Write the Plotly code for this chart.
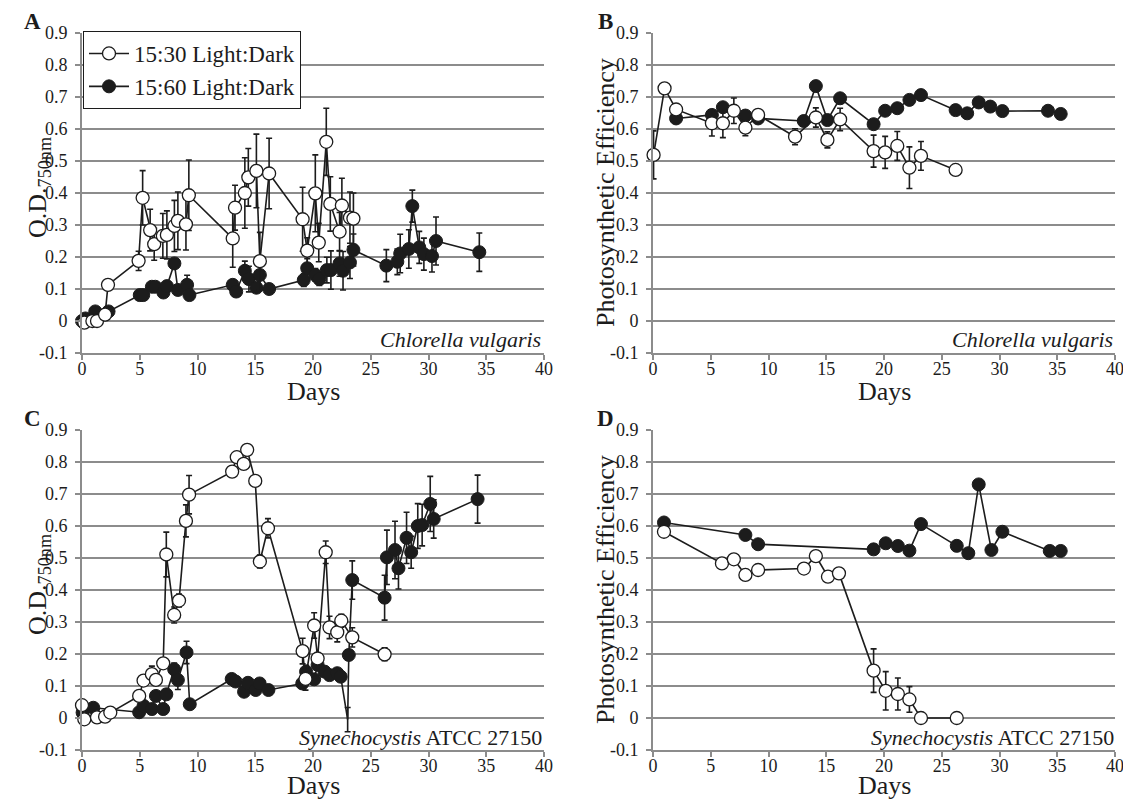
import plotly.graph_objects as go
from plotly.subplots import make_subplots

# Panel A: Chlorella vulgaris, O.D.750nm
a_open_day = [0.2, 0.9, 1.3, 2.0, 2.25, 4.9, 5.25, 5.9, 6.25, 7.0, 7.35, 8.0, 8.3, 9.0, 9.25,
              13.05, 13.25, 14.1, 14.4, 15.1, 15.4, 16.2, 19.1, 19.5, 20.2, 20.5, 21.15, 21.5,
              22.3, 22.5, 23.2, 23.5]
a_open_val = [-0.005, 0.0, 0.0, 0.02, 0.113, 0.188, 0.385, 0.284, 0.24, 0.266, 0.269, 0.297,
              0.313, 0.302, 0.393, 0.258, 0.354, 0.40, 0.449, 0.469, 0.187, 0.461, 0.318, 0.22,
              0.399, 0.245, 0.56, 0.366, 0.279, 0.361, 0.323, 0.32]
a_open_err = [0, 0, 0, 0.005, 0.01, 0.03, 0.085, 0.065, 0.05, 0.07, 0.075, 0.08, 0.09, 0.08,
              0.11, 0.09, 0.07, 0.11, 0.09, 0.115, 0.09, 0.11, 0.1, 0.04, 0.12, 0.06, 0.105,
              0.085, 0.06, 0.085, 0.08, 0.08]
a_fill_day = [0, 0.3, 1.15, 2.3, 5.0, 5.3, 6.05, 6.35, 7.05, 7.35, 8.0, 8.3, 9.1, 9.3, 13.05,
              13.35, 14.1, 14.45, 15.1, 15.4, 16.2, 19.2, 19.5, 20.2, 20.55, 21.2, 21.55, 22.3,
              22.6, 23.2, 23.5, 26.35, 27.3, 27.55, 28.3, 28.6, 29.2, 29.6, 30.3, 30.65, 34.4]
a_fill_val = [0, 0.008, 0.03, 0.03, 0.081, 0.081, 0.107, 0.107, 0.089, 0.109, 0.18, 0.097,
              0.113, 0.081, 0.113, 0.092, 0.157, 0.131, 0.104, 0.144, 0.10, 0.128, 0.165, 0.144,
              0.131, 0.159, 0.159, 0.18, 0.157, 0.183, 0.222, 0.173, 0.185, 0.211, 0.225, 0.359,
              0.23, 0.209, 0.203, 0.25, 0.215]
a_fill_err = [0, 0, 0.005, 0.005, 0.005, 0.005, 0.005, 0.005, 0.01, 0.01, 0.01, 0.01, 0.03,
              0.01, 0.01, 0.01, 0.03, 0.04, 0.01, 0.04, 0.01, 0.02, 0.03, 0.02, 0.02, 0.04,
              0.06, 0.04, 0.06, 0.05, 0.05, 0.05, 0.04, 0.06, 0.06, 0.05, 0.05, 0.05, 0.05,
              0.075, 0.06]

# Panel B: Chlorella vulgaris, photosynthetic efficiency
b_open_day = [0.05, 1.0, 2.0, 5.1, 6.05, 7.0, 8.0, 9.1, 12.3, 14.1, 15.1, 16.2, 19.1, 20.1,
              21.15, 22.2, 23.2, 26.2]
b_open_val = [0.519, 0.727, 0.661, 0.618, 0.618, 0.657, 0.604, 0.644, 0.576, 0.636, 0.566,
              0.63, 0.531, 0.527, 0.547, 0.479, 0.516, 0.472]
b_open_err = [0.075, 0.005, 0.005, 0.04, 0.045, 0.04, 0.025, 0.01, 0.025, 0.03, 0.025, 0.035,
              0.05, 0.05, 0.045, 0.065, 0.045, 0.0]
b_fill_day = [2.0, 5.1, 6.05, 8.0, 9.1, 13.05, 14.1, 15.1, 16.2, 19.1, 20.1, 21.15, 22.2,
              23.2, 26.2, 27.2, 28.2, 29.2, 30.25, 34.2, 35.3]
b_fill_val = [0.633, 0.644, 0.668, 0.642, 0.633, 0.625, 0.734, 0.628, 0.696, 0.615, 0.657,
              0.665, 0.691, 0.706, 0.659, 0.649, 0.683, 0.67, 0.656, 0.657, 0.647]
b_fill_err = [0.01, 0.01, 0.01, 0.01, 0.01, 0.01, 0.01, 0.01, 0.01, 0.01, 0.01, 0.01, 0.01,
              0.01, 0.01, 0.01, 0.01, 0.01, 0.01, 0.01, 0.01]

# Panel C: Synechocystis ATCC 27150, O.D.750nm
c_open_day = [0.0, 0.2, 1.3, 2.0, 2.45, 4.95, 5.33, 6.05, 6.4, 7.03, 7.3, 7.98, 8.4, 9.0,
              9.27, 13.0, 13.4, 14.0, 14.3, 15.0, 15.4, 16.1, 19.1, 19.35, 20.1, 20.4, 21.1,
              21.43, 22.1, 22.45, 23.4, 26.2]
c_open_val = [0.04, -0.004, 0.002, 0.004, 0.017, 0.069, 0.117, 0.137, 0.119, 0.171, 0.511,
              0.322, 0.367, 0.616, 0.698, 0.77, 0.815, 0.794, 0.838, 0.741, 0.489, 0.593,
              0.209, 0.122, 0.289, 0.186, 0.518, 0.283, 0.268, 0.304, 0.252, 0.199]
c_open_err = [0, 0, 0, 0, 0, 0.005, 0.01, 0.025, 0.01, 0.01, 0.07, 0.025, 0.02, 0.05, 0.06,
              0.015, 0.01, 0.015, 0.005, 0.015, 0.02, 0.03, 0.04, 0.035, 0.04, 0.01, 0.035,
              0.035, 0.03, 0.02, 0.03, 0.02]
c_fill_day = [0.05, 0.98, 4.95, 5.33, 6.05, 6.4, 7.03, 7.3, 7.98, 8.3, 9.05, 9.33, 12.96,
              13.3, 14.03, 14.37, 15.04, 15.38, 16.14, 19.07, 19.4, 20.1, 20.4, 21.0, 21.43,
              22.1, 22.4, 23.0, 23.1, 23.4, 26.2, 26.4, 27.1, 27.4, 28.1, 28.5, 29.07, 29.45,
              30.15, 30.45, 34.25]
c_fill_val = [0.017, 0.032, 0.018, 0.038, 0.028, 0.069, 0.028, 0.074, 0.152, 0.119, 0.205,
              0.043, 0.122, 0.114, 0.082, 0.11, 0.0875, 0.108, 0.0875, 0.108, 0.145, 0.121,
              0.166, 0.145, 0.134, 0.14, 0.129, -0.005, 0.197, 0.431, 0.376, 0.502, 0.525,
              0.468, 0.563, 0.518, 0.6, 0.603, 0.669, 0.622, 0.684]
c_fill_err = [0.005, 0.005, 0.005, 0.005, 0.005, 0.01, 0.005, 0.01, 0.02, 0.03, 0.035, 0.005,
              0.01, 0.01, 0.01, 0.01, 0.01, 0.01, 0.01, 0.015, 0.02, 0.01, 0.01, 0.01, 0.01,
              0.01, 0.01, 0.038, 0.015, 0.06, 0.07, 0.085, 0.09, 0.065, 0.08, 0.05, 0.07,
              0.065, 0.086, 0.06, 0.075]
c_fill_nomarker_day = 23.0  # this point is plotted without a circle

# Panel D: Synechocystis ATCC 27150, photosynthetic efficiency
d_open_day = [0.95, 5.97, 7.0, 8.0, 9.1, 13.07, 14.1, 15.15, 16.1, 19.1, 20.15, 21.2, 22.2,
              23.2, 26.3]
d_open_val = [0.582, 0.483, 0.496, 0.447, 0.4625, 0.467, 0.506, 0.4416, 0.452, 0.148, 0.085,
              0.075, 0.058, 0.0, 0.0]
d_open_err = [0.005, 0.005, 0.005, 0.005, 0.005, 0.005, 0.005, 0.005, 0.005, 0.068, 0.06,
              0.05, 0.04, 0, 0]
d_fill_day = [0.95, 8.0, 9.1, 19.1, 20.15, 21.2, 22.2, 23.2, 26.3, 27.3, 28.2, 29.3, 30.25,
              34.35, 35.3]
d_fill_val = [0.611, 0.572, 0.543, 0.527, 0.546, 0.5375, 0.523, 0.606, 0.538, 0.515, 0.73,
              0.525, 0.582, 0.522, 0.522]
d_fill_err = [0.005, 0.005, 0.005, 0.005, 0.005, 0.005, 0.005, 0.005, 0.005, 0.005, 0.005,
              0.005, 0.005, 0.005, 0.005]

series_names = ["15:30 Light:Dark", "15:60 Light:Dark"]
y_tickvals = [-0.1, 0, 0.1, 0.2, 0.3, 0.4, 0.5, 0.6, 0.7, 0.8, 0.9]
y_ticktext = ["-0.1", "0", "0.1", "0.2", "0.3", "0.4", "0.5", "0.6", "0.7", "0.8", "0.9"]
x_tickvals = [0, 5, 10, 15, 20, 25, 30, 35, 40]

# the page body adds an 8px margin, so the figure is drawn 8px smaller
# and every screen position is shifted by that amount
W, H, OFF = 1131, 801, 8
FW, FH = W - OFF, H - OFF
INK = "#1c1c1c"
GRID = "#8c8c8c"
FONT = "Liberation Serif"


def px(p):
    return (p - OFF) / FW


def py(p):
    return 1 - (p - OFF) / FH


fig = make_subplots(rows=2, cols=2)

panels = [
    (1, 1, (a_open_day, a_open_val, a_open_err), (a_fill_day, a_fill_val, a_fill_err)),
    (1, 2, (b_open_day, b_open_val, b_open_err), (b_fill_day, b_fill_val, b_fill_err)),
    (2, 1, (c_open_day, c_open_val, c_open_err), (c_fill_day, c_fill_val, c_fill_err)),
    (2, 2, (d_open_day, d_open_val, d_open_err), (d_fill_day, d_fill_val, d_fill_err)),
]

for row, col, op, fl in panels:
    first = row == 1 and col == 1
    fsizes = 13
    if row == 2 and col == 1:
        fsizes = [0 if d == c_fill_nomarker_day else 13 for d in fl[0]]
    # filled series first so the open circles sit on top
    fig.add_trace(go.Scatter(
        x=fl[0], y=fl[1], mode="lines+markers", name=series_names[1],
        legendrank=2, showlegend=first, cliponaxis=False,
        line=dict(color=INK, width=1.6),
        marker=dict(symbol="circle", size=fsizes, color=INK, opacity=1,
                    line=dict(color=INK, width=1)),
        error_y=dict(type="data", array=fl[2], visible=True, color=INK, thickness=1.6, width=3),
    ), row=row, col=col)
    fig.add_trace(go.Scatter(
        x=op[0], y=op[1], mode="lines+markers", name=series_names[0],
        legendrank=1, showlegend=first, cliponaxis=False,
        line=dict(color=INK, width=1.6),
        marker=dict(symbol="circle", size=13, color="white", opacity=1,
                    line=dict(color=INK, width=1.3)),
        error_y=dict(type="data", array=op[2], visible=True, color=INK, thickness=1.6, width=3),
    ), row=row, col=col)

# plot-area positions in screen pixels (left, right, top, bottom)
boxes = {
    (1, 1): (82, 544, 33, 353),
    (1, 2): (653, 1115, 33, 353),
    (2, 1): (82, 544, 430, 750),
    (2, 2): (653, 1115, 430, 750),
}
for (row, col), (l, r, t, b) in boxes.items():
    fig.update_xaxes(
        domain=[px(l), px(r)], range=[0, 40], tickvals=x_tickvals, automargin=False,
        showgrid=False, zeroline=False, showline=True, linecolor=GRID, linewidth=2,
        ticks="outside", ticklen=5, tickcolor=GRID, tickwidth=1.5,
        tickfont=dict(family=FONT, size=18, color=INK), ticklabelstandoff=-7,
        row=row, col=col)
    fig.update_yaxes(
        domain=[py(b), py(t)], range=[-0.1, 0.9], tickvals=y_tickvals,
        ticktext=y_ticktext, automargin=False,
        showgrid=True, gridcolor=GRID, gridwidth=1.8,
        zeroline=False, showline=True, linecolor=GRID, linewidth=2,
        ticks="outside", ticklen=5, tickcolor=GRID, tickwidth=1.5,
        tickfont=dict(family=FONT, size=18, color=INK), ticklabelstandoff=4,
        row=row, col=col)

ann = []


def add_text(text, xp, yp, size, xanchor="center", yanchor="middle", angle=0):
    ann.append(dict(text=text, x=px(xp), y=py(yp), xref="paper", yref="paper",
                    xanchor=xanchor, yanchor=yanchor, textangle=angle, showarrow=False,
                    borderpad=0, font=dict(family=FONT, size=size, color=INK)))


for letter, xp, yp in [("A", 32, 21), ("B", 605, 21), ("C", 32, 418), ("D", 605, 418)]:
    add_text("<b>" + letter + "</b>", xp, yp, 23)

for yoff, days_y in ((0, 391), (397, 785)):
    add_text("Days", 313, days_y, 26)
    add_text("Days", 884, days_y, 26)
    add_text("O.D.<sub>750nm</sub>", 39, 188 + yoff, 26, angle=-90)
    add_text("Photosynthetic Efficiency", 605, 193 + yoff, 26, angle=-90)

add_text("<i>Chlorella vulgaris</i>", 542, 339, 22, xanchor="right")
add_text("<i>Chlorella vulgaris</i>", 1114, 339, 22, xanchor="right")
add_text("<i>Synechocystis</i> ATCC 27150", 543, 737, 22, xanchor="right")
add_text("<i>Synechocystis</i> ATCC 27150", 1115, 737, 22, xanchor="right")

fig.update_layout(
    width=FW, height=FH, margin=dict(l=0, r=0, t=0, b=0),
    paper_bgcolor="white", plot_bgcolor="white",
    annotations=ann,
    legend=dict(x=px(83), y=py(31), xanchor="left", yanchor="top",
                bgcolor="white", bordercolor=INK, borderwidth=1, itemwidth=40,
                font=dict(family=FONT, size=23, color=INK), tracegroupgap=0),
    showlegend=True,
)

fig.write_html("out.html")
